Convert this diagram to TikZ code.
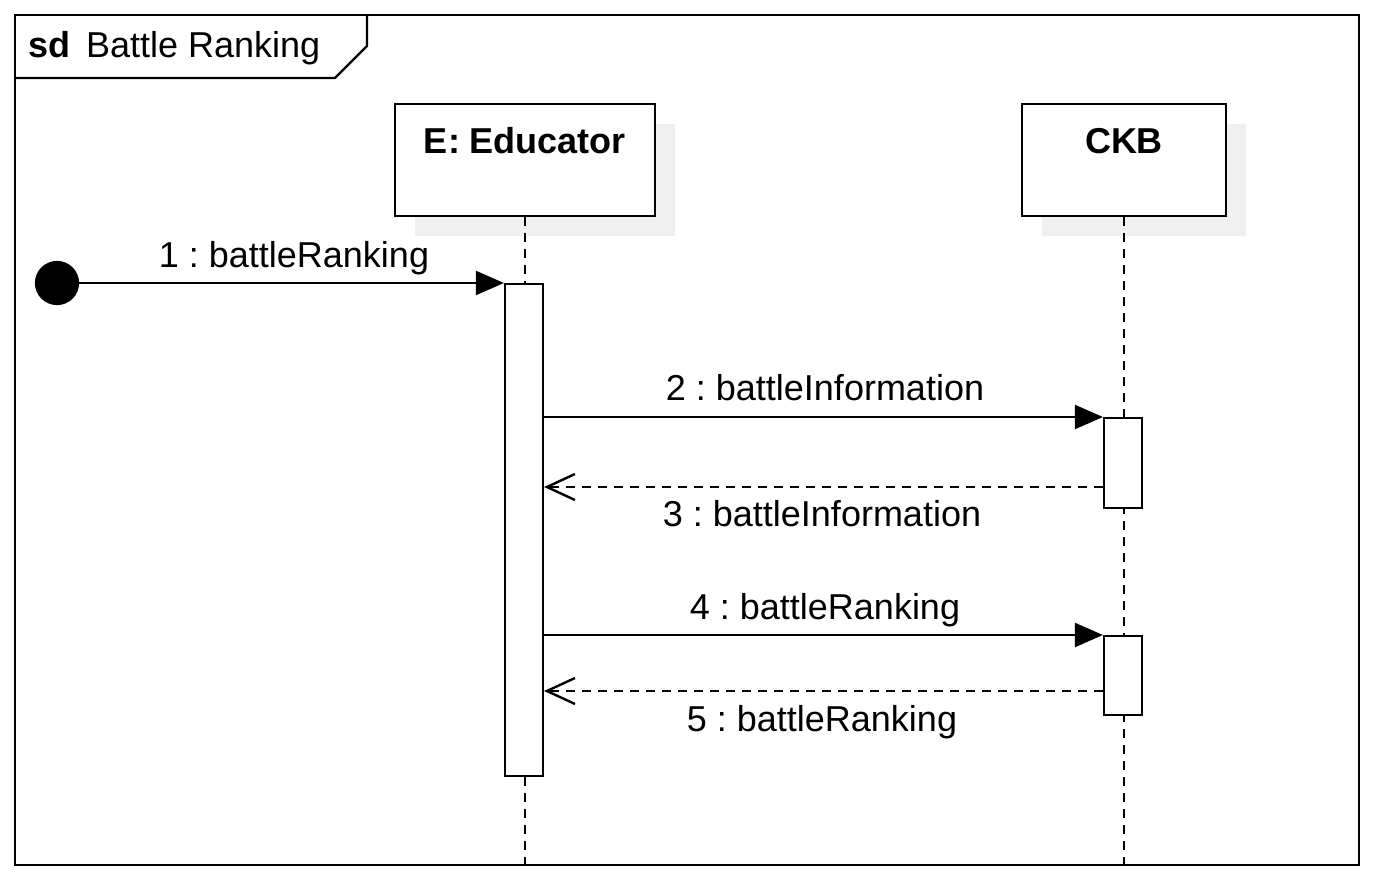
\documentclass[tikz,border=0pt]{standalone}
\usepackage{fontspec}
\setmainfont{Liberation Sans}
\usetikzlibrary{arrows.meta,shadows}
\frenchspacing
\begin{document}
\begin{tikzpicture}[x=0.5pt,y=-0.5pt,
  line width=1.1pt,
  every node/.style={font=\fontsize{18pt}{22pt}\selectfont},
  lbl/.style={anchor=base,inner sep=0pt},
  objbox/.style={draw,fill=white,inner sep=0pt,minimum width=130pt,
     text height=24.5pt,text depth=31.5pt,font=\fontsize{18pt}{22pt}\selectfont\bfseries,
     drop shadow={shadow xshift=10pt,shadow yshift=-10pt,fill=black!6,opacity=1}},
  act/.style={draw,fill=white,inner sep=0pt,minimum width=19pt},
  lifeline/.style={line width=1.2pt,dash pattern=on 4.5pt off 3.5pt},
  sync/.style={-{Triangle[length=14pt,width=12pt]}},
  reply/.style={line width=1.2pt,dash pattern=on 4.5pt off 3.5pt,-{Straight Barb[length=14pt,width=13pt]}}]
\useasboundingbox (0,0) rectangle (1378,882);
% frame
\draw[line width=1.2pt] (15,15) rectangle (1359,865);
\draw[line width=1.2pt] (15,78) -- (335,78) -- (367,46) -- (367,15);
\node[lbl,anchor=base west,font=\fontsize{18pt}{22pt}\selectfont\bfseries] (sd) at (27,58) {sd};
\node[lbl,anchor=base west] (title) at (85,58) {Battle Ranking};
% objects
\node[objbox] (edu) at (525,103) [anchor=north] {E: Educator};
\node[objbox,minimum width=102pt] (ckb) at (1124,103) [anchor=north] {CKB};
\coordinate (eduend) at (525,865);
\coordinate (ckbend) at (1124,865);
\draw[lifeline] (edu.south) -- (eduend);
\draw[lifeline] (ckb.south) -- (ckbend);
% activations
\node[act,minimum height=246pt,anchor=north] (eact) at (524,283) {};
\node[act,minimum height=45pt,anchor=north] (cact1) at (1123,417) {};
\node[act,minimum height=39.5pt,anchor=north] (cact2) at (1123,635) {};
% start
\node[circle,fill,draw,minimum size=21pt,inner sep=0pt] (start) at (57,283) {};
% messages
\draw[sync] (start.east) -- (eact.north west);
\node[lbl] (m1) at (294,268) {1 : battleRanking};
\draw[sync] (eact.east |- cact1.north west) -- (cact1.north west);
\node[lbl] (m2) at (825,401) {2 : battleInformation};
\coordinate (y3) at (0,487);
\draw[reply] (cact1.west |- y3) -- (eact.east |- y3);
\node[lbl] (m3) at (822,527) {3 : battleInformation};
\draw[sync] (eact.east |- cact2.north west) -- (cact2.north west);
\node[lbl] (m4) at (825,619) {4 : battleRanking};
\coordinate (y5) at (0,691);
\draw[reply] (cact2.west |- y5) -- (eact.east |- y5);
\node[lbl] (m5) at (822,731) {5 : battleRanking};
\end{tikzpicture}
\end{document}
